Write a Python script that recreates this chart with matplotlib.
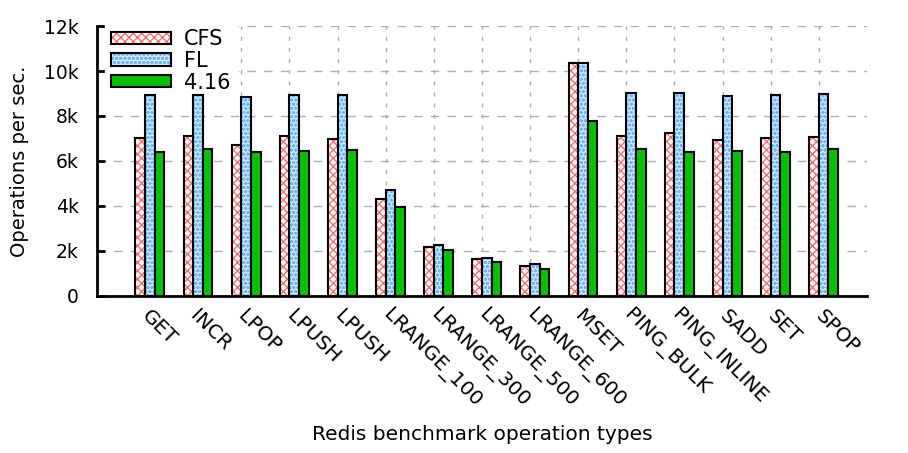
import matplotlib
matplotlib.use("Agg")
import matplotlib.pyplot as plt
from matplotlib.patches import Patch
from matplotlib.ticker import FuncFormatter
import numpy as np

operations = ["GET", "INCR", "LPOP", "LPUSH", "LPUSH", "LRANGE_100", "LRANGE_300",
              "LRANGE_500", "LRANGE_600", "MSET", "PING_BULK", "PING_INLINE",
              "SADD", "SET", "SPOP"]
cfs = [7040, 7100, 6730, 7130, 6960, 4300, 2190, 1660, 1350, 10370, 7130, 7260,
       6930, 7020, 7050]
fl = [8930, 8930, 8860, 8930, 8930, 4700, 2280, 1670, 1410, 10370, 9010, 9040,
      8900, 8930, 8990]
v416 = [6390, 6520, 6390, 6460, 6490, 3970, 2030, 1530, 1190, 7760, 6550, 6410,
        6440, 6380, 6520]

plt.rcParams["font.family"] = "DejaVu Sans"
plt.rcParams["hatch.linewidth"] = 1.0

fig = plt.figure(figsize=(9.08, 4.53), dpi=100)
ax = fig.add_axes([0.1068, 0.3466, 0.848, 0.596])

x = np.arange(len(operations))
width = 0.2

# CFS: red crosshatch on white
plt.rcParams["hatch.color"] = "#ff7070"
ax.bar(x - width, cfs, width, align="edge", facecolor="white",
       edgecolor="#ff7070", hatch="xxxx", linewidth=0, zorder=3)
ax.bar(x - width, cfs, width, align="edge", facecolor="none",
       edgecolor="black", linewidth=1.5, zorder=4)

# FL: blue dots on light blue
ax.bar(x, fl, width, align="edge", facecolor="#d6ebff",
       edgecolor="#6fb6ff", hatch="oooo", linewidth=0, zorder=3)
ax.bar(x, fl, width, align="edge", facecolor="none",
       edgecolor="black", linewidth=1.5, zorder=4)

# 4.16: solid green
ax.bar(x + width, v416, width, align="edge", facecolor="#00c000",
       edgecolor="black", linewidth=1.5, zorder=4)

ax.set_xlim(-1, 15)
ax.set_ylim(0, 12000)
ax.set_yticks(np.arange(0, 12001, 2000))
ax.yaxis.set_major_formatter(FuncFormatter(lambda v, p: "0" if v == 0 else f"{int(v/1000)}k"))
ax.set_xticks(x)
ax.set_xticklabels(operations, rotation=-45, ha="left", va="center",
                   rotation_mode="anchor")

ax.tick_params(axis="y", direction="in", length=6, width=2, labelsize=13.5, pad=13)
ax.tick_params(axis="x", length=0, labelsize=14.5, pad=12)

for s in ["top", "right"]:
    ax.spines[s].set_visible(False)
for s in ["left", "bottom"]:
    ax.spines[s].set_linewidth(2)

ax.grid(axis="y", color="#b0b0b0", linestyle=(0, (6, 6)), linewidth=1, zorder=0)
ax.grid(axis="x", color="#b0b0b0", linestyle=(0, (3, 5)), linewidth=1, zorder=0)
ax.set_axisbelow(True)

ax.set_ylabel("Operations per sec.", fontsize=14, labelpad=11)
ax.set_xlabel("Redis benchmark operation types", fontsize=14.5, labelpad=10)

h_cfs = (Patch(facecolor="white", edgecolor="#ff7070", hatch="xxxx", linewidth=0),
         Patch(facecolor="none", edgecolor="black", linewidth=1.5))
h_fl = (Patch(facecolor="#d6ebff", edgecolor="#6fb6ff", hatch="oooo", linewidth=0),
        Patch(facecolor="none", edgecolor="black", linewidth=1.5))
h_416 = Patch(facecolor="#00c000", edgecolor="black", linewidth=1.5)
leg = ax.legend([h_cfs, h_fl, h_416], ["CFS", "FL", "4.16"], loc="upper left",
                bbox_to_anchor=(0.0104, 1.011), borderaxespad=0,
                fontsize=15, handlelength=2.85, handleheight=0.53, labelspacing=0.08,
                handletextpad=0.65, borderpad=0.3, frameon=True, fancybox=False,
                framealpha=1, edgecolor="white", facecolor="white")
# legend box hides the grid but sits under the bars
leg.set_zorder(2.5)

fig.savefig("out.png", dpi=100)
